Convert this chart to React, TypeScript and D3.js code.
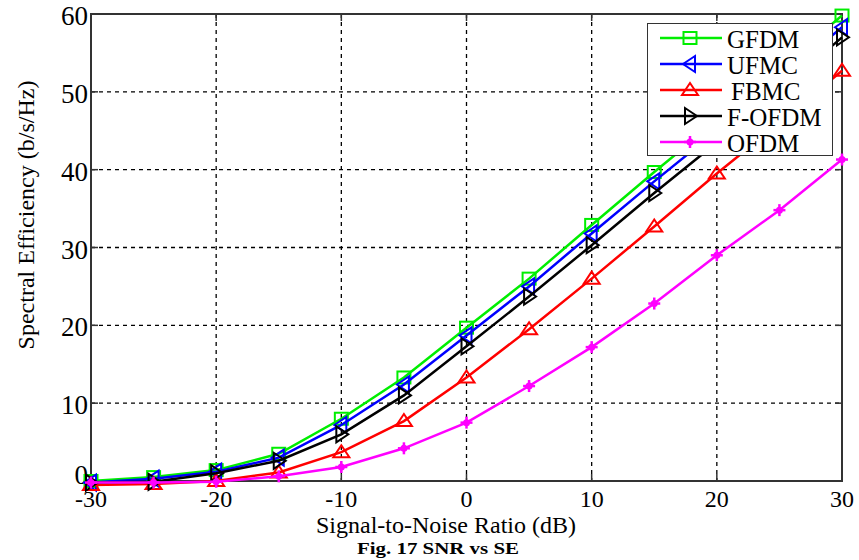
import React from "react";
import * as d3 from "d3";

const snr = [-30, -25, -20, -15, -10, -5, 0, 5, 10, 15, 20, 25, 30];
const gfdm = [0, 0.5, 1.4, 3.5, 8.0, 13.3, 19.7, 26.0, 32.9, 39.7, 46.3, 53.0, 59.8];
const ufmc = [-0.2, 0.3, 1.2, 3.0, 7.2, 12.4, 18.7, 25.0, 31.8, 38.5, 45.0, 51.6, 58.3];
const fbmc = [-0.5, -0.4, 0, 1.1, 3.7, 7.7, 13.3, 19.5, 26.0, 32.7, 39.5, 46.0, 52.7];
const fofdm = [-0.2, -0.1, 1.0, 2.6, 6.0, 11.0, 17.3, 23.7, 30.3, 37.0, 43.5, 50.1, 57.0];
const ofdm = [-0.2, -0.2, -0.1, 0.6, 1.8, 4.2, 7.5, 12.2, 17.2, 22.8, 29.0, 34.8, 41.3];

const seriesNames = ["GFDM", "UFMC", "FBMC", "F-OFDM", "OFDM"];
const seriesColors = ["#00ee00", "#0000ff", "#ff0000", "#000000", "#ff00ff"];
const seriesMarkers = ["square", "tleft", "tup", "tright", "star"];
const seriesValues = [gfdm, ufmc, fbmc, fofdm, ofdm];
const xTicks = [-30, -20, -10, 0, 10, 20, 30];
const yTicks = [0, 10, 20, 30, 40, 50, 60];

const W = 859, H = 560;
const left = 91, right = 842, top = 14, bottom = 481;
const font = "'Liberation Serif', 'Times New Roman', serif";

function Marker({ type, x, y, color }: { type: string; x: number; y: number; color: string }) {
  const s = 6;
  if (type === "square")
    return <rect x={x - s - 0.5} y={y - s} width={2 * s + 1} height={2 * s} fill="none" stroke={color} strokeWidth={2} />;
  if (type === "tup")
    return <polygon points={`${x},${y - s - 1} ${x - s - 2},${y + s - 1} ${x + s + 2},${y + s - 1}`} fill="none" stroke={color} strokeWidth={2} />;
  if (type === "tleft")
    return <polygon points={`${x - s - 1},${y} ${x + s - 1},${y - s - 2} ${x + s - 1},${y + s + 2}`} fill="none" stroke={color} strokeWidth={2} />;
  if (type === "tright")
    return <polygon points={`${x + s + 1},${y} ${x - s + 1},${y - s - 2} ${x - s + 1},${y + s + 2}`} fill="none" stroke={color} strokeWidth={2} />;
  return (
    <g stroke={color} strokeWidth={2.5} fill={color}>
      <line x1={x - 6} y1={y} x2={x + 6} y2={y} />
      <line x1={x} y1={y - 6} x2={x} y2={y + 6} />
      <circle cx={x} cy={y} r={3.5} stroke="none" />
    </g>
  );
}

export default function App() {
  const x = d3.scaleLinear().domain([-30, 30]).range([left, right]);
  const y = d3.scaleLinear().domain([0, 60]).range([bottom, top]);
  const line = d3
    .line<number>()
    .x((_, i) => x(snr[i]))
    .y((d) => y(d));

  const legX = 647, legY = 23, legW = 186, legH = 133, rowH = 26;

  return (
    <svg width={W} height={H} style={{ position: "absolute", left: 0, top: 0, background: "#fff" }}>
      {/* grid */}
      {xTicks.slice(1, -1).map((t) => (
        <line key={"gx" + t} x1={x(t)} x2={x(t)} y1={top} y2={bottom} stroke="#000" strokeWidth={1.3} strokeDasharray="4,4" />
      ))}
      {yTicks.slice(1, -1).map((t) => (
        <line key={"gy" + t} x1={left} x2={right} y1={y(t)} y2={y(t)} stroke="#000" strokeWidth={1.3} strokeDasharray="4,4" />
      ))}
      {/* ticks */}
      {xTicks.map((t) => (
        <g key={"tx" + t}>
          <line x1={x(t)} x2={x(t)} y1={bottom} y2={bottom - 7} stroke="#333" strokeWidth={1.5} />
          <line x1={x(t)} x2={x(t)} y1={top} y2={top + 7} stroke="#333" strokeWidth={1.5} />
          <text x={x(t)} y={bottom + 26} textAnchor="middle" fontFamily={font} fontSize={24}>{t}</text>
        </g>
      ))}
      {yTicks.map((t) => (
        <g key={"ty" + t}>
          <line x1={left} x2={left + 7} y1={y(t)} y2={y(t)} stroke="#333" strokeWidth={1.5} />
          <line x1={right} x2={right - 7} y1={y(t)} y2={y(t)} stroke="#333" strokeWidth={1.5} />
          <text x={left - 3} y={y(t) + (t === 0 ? 3 : 11)} textAnchor="end" fontFamily={font} fontSize={27}>{t}</text>
        </g>
      ))}
      {/* box */}
      <rect x={left} y={top} width={right - left} height={bottom - top} fill="none" stroke="#333" strokeWidth={2} />
      {/* series */}
      {seriesValues.map((vals, k) => (
        <g key={seriesNames[k]}>
          <path d={line(vals) || ""} fill="none" stroke={seriesColors[k]} strokeWidth={2.5} />
          {vals.map((v, i) => (
            <Marker key={i} type={seriesMarkers[k]} x={x(snr[i])} y={y(v)} color={seriesColors[k]} />
          ))}
        </g>
      ))}
      {/* legend */}
      <svg x={legX} y={legY} width={legW} height={legH} overflow="hidden">
        <rect x={0} y={0} width={legW} height={legH} fill="#fff" stroke="#333" strokeWidth={2} />
        {seriesNames.map((n, k) => {
          const cy = 15 + k * rowH;
          return (
            <g key={n}>
              <line x1={13} x2={75} y1={cy} y2={cy} stroke={seriesColors[k]} strokeWidth={2.5} />
              <Marker type={seriesMarkers[k]} x={43} y={cy} color={seriesColors[k]} />
              <text x={n === "FBMC" ? 84 : 80} y={cy + 10} fontFamily={font} fontSize={25}>{n}</text>
            </g>
          );
        })}
      </svg>
      {/* labels */}
      <text x={446} y={533} textAnchor="middle" fontFamily={font} fontSize={24}>Signal-to-Noise Ratio (dB)</text>
      <text x={438} y={554} textAnchor="middle" fontFamily={font} fontSize={17} fontWeight="bold" textLength={162} lengthAdjust="spacingAndGlyphs">Fig. 17 SNR vs SE</text>
      <text transform={`translate(34,215) rotate(-90)`} textAnchor="middle" fontFamily={font} fontSize={24}>Spectral Efficiency (b/s/Hz)</text>
    </svg>
  );
}
